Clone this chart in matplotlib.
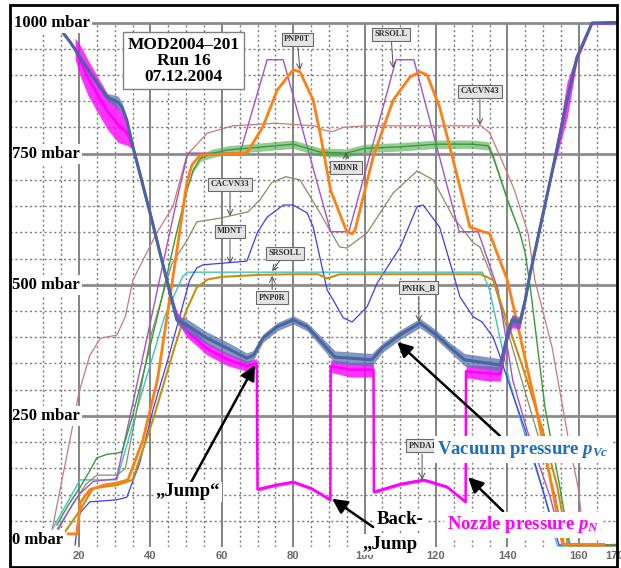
import numpy as np
import matplotlib.pyplot as plt

plt.rcParams['font.family'] = ['Liberation Serif', 'DejaVu Serif']
plt.rcParams['mathtext.fontset'] = 'custom'
plt.rcParams['mathtext.it'] = 'Liberation Serif:italic:bold'
plt.rcParams['mathtext.rm'] = 'Liberation Serif:bold'

# ---- data (x in s, y in mbar) ----
vac_x = [15.0, 17.5, 20.3, 23.9, 27.8, 30.9, 32.0, 33.4, 35.1, 39.9, 42.7, 44.6, 45.5, 47.4,
         50.2, 55.9, 61.5, 67.0, 68.9, 71.5, 75.5, 80.0, 83.9, 88.0, 91.7, 96.0, 102.0, 105.0,
         110.0, 115.5, 120.0, 124.0, 128.0, 133.0, 138.0, 140.0, 141.3, 143.5, 145.0, 146.3,
         152.8, 156.7, 159.5, 163.7, 170.7]
vac_y = [985, 963, 934, 896, 858, 848, 839, 814, 763, 637, 560, 509, 484, 433,
         423, 398, 379, 360, 366, 398, 420, 433, 420, 390, 362, 360, 357, 380,
         405, 427, 405, 380, 357, 352, 347, 404, 433, 429, 471, 519,
         724, 852, 934, 999, 1000]
vac_noise = [3, 4, 5, 5, 7, 12, 10, 5, 3, 3, 4, 5, 7, 9,
             12, 12, 12, 10, 9, 8, 8, 8, 8, 10, 12, 12, 12, 9,
             9, 9, 9, 9, 12, 12, 12, 9, 10, 10, 7, 4,
             4, 4, 3, 2, 2]

noz_x = [18.9, 20.5, 22.5, 25.0, 28.0, 31.0, 33.5, 35.1, 39.9, 44.6, 45.5, 47.4, 50.2, 55.9,
         61.5, 67.0, 69.8, 70.0, 75.0, 80.0, 85.0, 90.4, 90.5, 96.0, 102.5, 102.6, 110.0,
         116.5, 123.0, 128.3, 128.4, 133.0, 138.0, 140.0, 141.3, 143.5, 145.0, 146.3, 152.8,
         156.7, 159.5, 163.7, 170.7]
noz_y = [950, 925, 895, 865, 830, 805, 790, 763, 637, 509, 484, 440, 412, 378,
         358, 345, 350, 110, 118, 124, 112, 90, 345, 338, 338, 105, 120,
         128, 115, 86, 335, 332, 330, 404, 430, 425, 471, 519, 724,
         852, 934, 999, 1000]
noz_noise = [20, 30, 34, 34, 34, 34, 24, 5, 3, 4, 5, 9, 12, 12,
             12, 10, 9, 3, 3, 3, 3, 3, 12, 14, 14, 3, 3,
             3, 3, 3, 12, 14, 14, 12, 12, 9, 5, 4, 6,
             35, 8, 3, 3]

grn_x = [13.8, 17.0, 20.3, 23.0, 25.0, 28.0, 30.6, 32.0, 35.0, 38.0, 42.7, 47.0, 50.2, 52.0,
         54.0, 57.0, 61.6, 70.0, 80.0, 87.5, 94.8, 100.0, 110.0, 120.0, 130.0, 134.6, 136.0,
         140.0, 143.5, 145.0, 146.5, 150.5, 154.7, 157.5, 170.7]
grn_y = [42, 80, 114, 145, 170, 177, 179, 181, 250, 330, 460, 590, 680, 719,
         741, 750, 757, 762, 768, 753, 751, 760, 763, 768, 768, 765, 744,
         662, 599, 560, 490, 267, 114, 3, 3]
grn_noise = [0, 0, 0, 0, 0, 0, 0, 0, 0, 0, 0, 0, 2, 4,
             6, 8, 8, 8, 8, 8, 8, 8, 8, 8, 8, 8, 6,
             4, 2, 0, 0, 0, 0, 0, 0]

brn_x = [12.4, 15.0, 17.5, 20.0, 23.0, 26.0, 30.6, 33.0, 35.1, 41.8, 46.3, 50.2, 55.9, 63.1,
         75.0, 86.0, 88.5, 91.0, 94.0, 100.0, 132.6, 135.0, 138.0, 142.0, 145.8, 147.7, 152.5,
         155.3, 157.5, 159.8, 160.9, 161.5]
brn_y = [30, 120, 205, 295, 365, 398, 404, 440, 509, 599, 649, 747, 789, 803,
         808, 803, 795, 792, 800, 803, 803, 790, 744, 680, 598, 509, 381,
         274, 190, 114, 51, 20]

pur_x = [14.0, 20.0, 24.0, 30.5, 47.4, 50.5, 65.1, 72.7, 77.2, 90.5, 95.6, 108.8, 113.8,
         126.5, 131.8, 137.4, 141.5, 145.5, 152.0, 155.5, 170.7]
pur_y = [35, 100, 125, 130, 662, 751, 751, 929, 929, 601, 601, 929, 929,
         601, 601, 490, 318, 223, 95, 3, 3]

org_x = [17.0, 19.5, 20.3, 23.0, 27.0, 30.6, 33.7, 37.9, 42.0, 46.0, 50.2, 51.6, 53.9, 67.0,
         71.5, 75.5, 80.0, 81.9, 85.6, 87.5, 90.5, 95.0, 96.5, 97.3, 102.4, 108.0, 112.7,
         115.5, 117.5, 121.0, 124.8, 129.5, 133.2, 135.0, 140.0, 148.0, 152.5, 155.5, 167.0]
org_y = [25, 25, 84, 109, 118, 122, 128, 204, 320, 500, 694, 728, 747, 751,
         801, 871, 910, 906, 852, 790, 680, 601, 597, 604, 744, 852, 896,
         906, 900, 839, 738, 610, 601, 598, 509, 267, 114, 5, 5]

olv_x = [14.0, 18.0, 22.0, 25.0, 30.6, 33.0, 37.0, 40.0, 46.0, 50.3, 53.0, 59.5, 67.3, 70.7,
         74.0, 77.9, 81.9, 87.5, 93.0, 95.0, 100.7, 108.0, 114.7, 119.2, 124.8, 130.4, 132.3,
         136.0, 144.0, 150.0, 153.5, 156.0]
olv_y = [30, 80, 120, 137, 137, 150, 290, 400, 540, 585, 620, 627, 639, 662,
         695, 706, 700, 637, 572, 570, 599, 675, 717, 700, 629, 580, 572,
         509, 318, 180, 95, 3]

blu_x = [18.9, 19.5, 20.3, 23.0, 30.6, 33.4, 37.0, 40.7, 45.0, 51.0, 53.0, 54.7, 67.0, 70.0,
         72.7, 77.2, 80.0, 83.9, 85.6, 89.5, 91.2, 94.0, 96.5, 100.7, 103.5, 110.0, 114.7,
         116.4, 121.0, 124.8, 126.7, 130.4, 132.9, 136.0, 138.0, 141.0, 145.0, 150.5, 154.5,
         157.0, 160.0, 170.7]
blu_y = [4, 40, 65, 86, 90, 95, 160, 261, 360, 509, 532, 538, 545, 600,
         629, 652, 652, 637, 610, 490, 471, 437, 429, 458, 503, 572, 649,
         652, 610, 522, 477, 439, 429, 400, 362, 300, 223, 95, 3,
         8, 3, 5]

cyn_x = [12.7, 20.3, 30.6, 37.0, 44.0, 49.0, 50.3, 133.0, 135.0, 140.5, 144.5, 150.5, 154.0, 170.7]
cyn_y = [36, 128, 128, 280, 440, 515, 524, 524, 490, 318, 223, 95, 2, 2]

gld_x = [16.0, 20.3, 23.9, 30.6, 35.0, 40.7, 46.3, 50.0, 53.0, 56.0, 60.0, 70.7, 80.0, 87.0,
         89.5, 93.0, 100.0, 132.6, 136.0, 145.5, 150.0, 154.0, 157.0, 170.7]
gld_y = [28, 70, 112, 118, 128, 242, 370, 450, 495, 510, 515, 519, 520, 520,
         512, 520, 520, 520, 509, 318, 220, 114, 3, 3]

tick_pos = [20, 40, 60, 80, 100, 120, 140, 160, 170]
tick_lbl = ['20', '40', '60', '80', '100', '120', '140', '160', '170']
mbar_levels = [1000, 750, 500, 250, 0]

# ---- figure ----
W, H = 621., 568.
fig = plt.figure(figsize=(W / 100, H / 100), dpi=100)
ax = fig.add_axes([10 / W, 21 / H, 607 / W, 542 / H])
ax.set_xlim(0.67, 170.7)
ax.set_ylim(0, 1033.4)
for s in ax.spines.values():
    s.set_visible(False)
ax.set_yticks([])
ax.set_xticks(tick_pos)
ax.set_xticklabels(tick_lbl)
ax.tick_params(axis='x', length=0, pad=3, labelsize=8, labelcolor='#6a6a6a')
for t in ax.get_xticklabels():
    t.set_family('Liberation Sans')
    t.set_weight('bold')

# grid
for v in range(10, 170, 5):
    if v % 20 == 0:
        ax.plot([v, v], [0, 1000], color='#6e6e6e', lw=1.2, zorder=1)
    else:
        ax.plot([v, v], [0, 1000], color='#7a7a7a', lw=1.0, ls=(0, (1.5, 2)), zorder=1)
for h in range(50, 1001, 50):
    if h % 250 == 0:
        ax.plot([0.67, 170.7], [h, h], color='#8c8c8c', lw=2.0, zorder=1)
    else:
        ax.plot([0.67, 170.7], [h, h], color='#7a7a7a', lw=1.0, ls=(0, (1.5, 2)), zorder=1)

# thin process curves
ax.plot(brn_x, brn_y, color='#c87a7a', lw=0.9, zorder=3)
ax.plot(cyn_x, cyn_y, color='#3cc4c4', lw=1.0, zorder=3)
ax.plot(olv_x, olv_y, color='#8a8a6c', lw=0.9, zorder=3)
ax.plot(blu_x, blu_y, color='#3c3cff', lw=0.9, zorder=3)
ax.plot(pur_x, pur_y, color='#a552c8', lw=1.0, zorder=3)
ax.plot(gld_x, gld_y, color='#c89010', lw=1.5, zorder=3)
ax.fill_between(grn_x, np.array(grn_y) - grn_noise, np.array(grn_y) + grn_noise,
                color='#4caa4c', lw=0, alpha=0.6, zorder=3)
ax.plot(grn_x, grn_y, color='#3a9a3a', lw=1.0, zorder=3)
ax.plot(org_x, org_y, color='#ff7f10', lw=2.0, zorder=4)

# nozzle and vacuum pressure
ax.fill_between(noz_x, np.array(noz_y) - noz_noise, np.array(noz_y) + noz_noise,
                color='#ff00ff', lw=0, alpha=0.8, zorder=5)
ax.plot(noz_x, noz_y, color='#ff00ff', lw=1.8, zorder=5)
ax.fill_between(vac_x, np.array(vac_y) - vac_noise, np.array(vac_y) + vac_noise,
                color='#5a76ad', lw=0, alpha=0.75, zorder=6)
ax.plot(vac_x, vac_y, color='#4a66a0', lw=2.2, zorder=6)

# y labels
white = dict(boxstyle='square,pad=0.12', fc='white', ec='none')
for lv in mbar_levels:
    ax.text(1.8 if lv == 1000 else 1.3, lv if lv > 0 else 14, '%d mbar' % lv,
            fontsize=12, fontweight='bold', ha='left', va='center', bbox=white, zorder=8)

# title box
ax.text(49.3, 927, 'MOD2004\u2013201\nRun 16\n07.12.2004', fontsize=12.5, fontweight='bold',
        ha='center', va='center', multialignment='center', linespacing=1.0, zorder=8,
        bbox=dict(boxstyle='square,pad=0.25', fc='white', ec='#808080', lw=1.0))

# signal tags
tags = [('PNP0T', (81.1, 968), (81.9, 909)),
        ('SRSOLL', (107.4, 978), (108.0, 913)),
        ('CACVN43', (132.3, 869), (132.3, 804)),
        ('MDNR', (94.8, 723), (94.8, 753)),
        ('CACVN33', (62.3, 692), (62.3, 631)),
        ('MDNT', (62.3, 602), (62.3, 540)),
        ('SRSOLL', (77.7, 560), (74.1, 526)),
        ('PNP0R', (74.1, 475), (74.1, 517)),
        ('PNHK_B', (115.2, 494), (115.2, 429)),
        ('PNDA1', (116.1, 193), (116.1, 128))]
for name, box, tip in tags:
    ax.annotate('', xy=tip, xytext=box, zorder=8,
                arrowprops=dict(arrowstyle='->', color='#505050', lw=0.7, shrinkA=6, shrinkB=0))
    ax.text(box[0], box[1], name, fontsize=6, fontweight='bold', ha='center', va='center',
            color='#303030', zorder=9,
            bbox=dict(boxstyle='square,pad=0.3', fc='#e4e4e4', ec='#6a6a6a', lw=0.8))

# big arrows and captions
big = dict(arrowstyle='-|>,head_length=0.9,head_width=0.45', color='black', lw=1.8,
           shrinkA=0, shrinkB=0)
ax.annotate('', xy=(69.3, 347), xytext=(51.1, 120), arrowprops=big, zorder=9)
ax.annotate('', xy=(90.9, 92), xytext=(102.4, 38), arrowprops=big, zorder=9)
ax.annotate('', xy=(109.1, 391), xytext=(137.9, 212), arrowprops=big, zorder=9)
ax.annotate('', xy=(129.0, 133), xytext=(138.8, 68), arrowprops=big, zorder=9)

ax.text(50.5, 105, '\u201eJump\u201c', fontsize=13.5, fontweight='bold', ha='center', va='center',
        zorder=10, bbox=dict(boxstyle='square,pad=0.1', fc='white', ec='none'))
ax.text(110.0, 52, 'Back-', fontsize=13.5, fontweight='bold', ha='center', va='center',
        zorder=10, bbox=dict(boxstyle='square,pad=0.1', fc='white', ec='none'))
ax.text(107.2, 5, '\u201eJump', fontsize=13.5, fontweight='bold', ha='center', va='center',
        zorder=10, bbox=dict(boxstyle='square,pad=0.1', fc='white', ec='none'))
ax.text(120.3, 186, r'Vacuum pressure $p_{Vc}$', fontsize=13.5, fontweight='bold',
        color='#1a6ec8', ha='left', va='center', zorder=10,
        bbox=dict(boxstyle='square,pad=0.15', fc='white', ec='none'))
ax.text(123.1, 42, r'Nozzle pressure $p_{N}$', fontsize=13.5, fontweight='bold',
        color='#ff00ff', ha='left', va='center', zorder=10,
        bbox=dict(boxstyle='square,pad=0.15', fc='white', ec='none'))

fig.add_artist(plt.Rectangle((10 / W, 1 - 567 / H), 607 / W, 562 / H, transform=fig.transFigure,
                             fill=False, lw=2, ec='black'))

fig.savefig('out.png', dpi=100)
